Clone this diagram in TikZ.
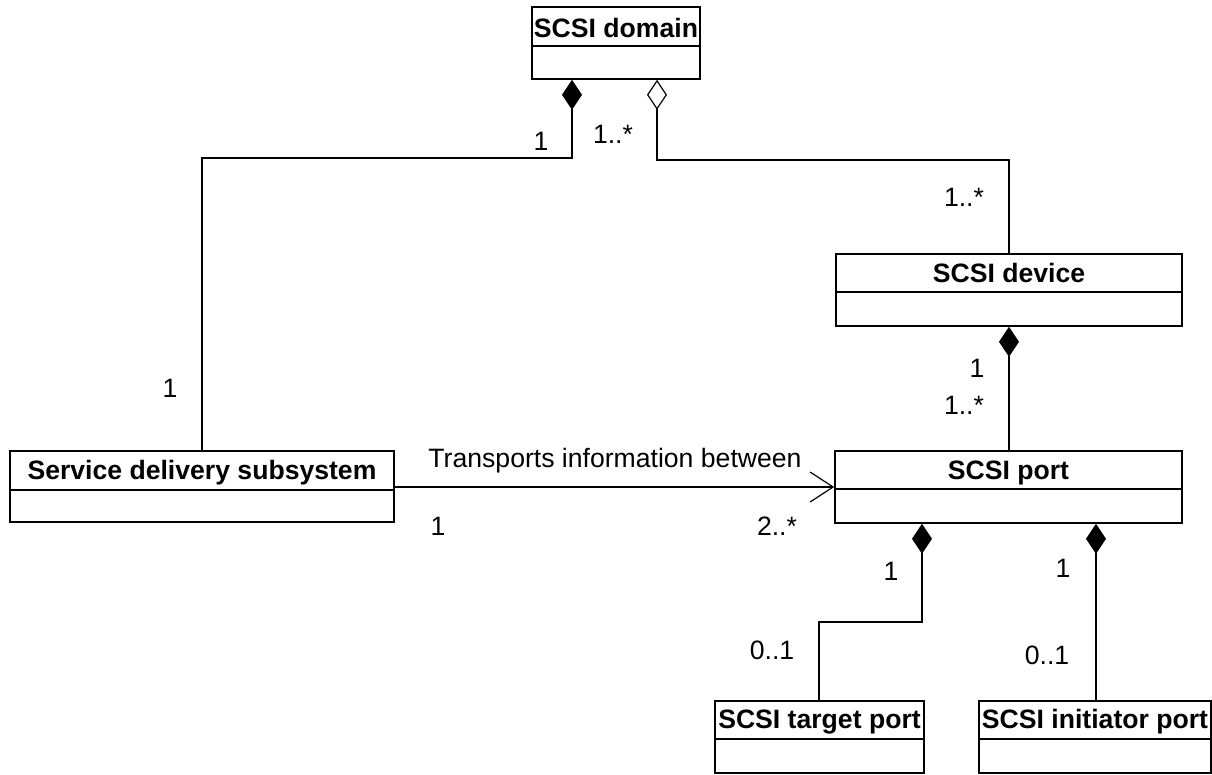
\documentclass[tikz,border=0pt]{standalone}
\usepackage{fontspec}
\setmainfont{Liberation Sans}
\usetikzlibrary{arrows.meta,calc}
\begin{document}
\begin{tikzpicture}[x=1pt,y=-1pt,
  umlbox/.style={draw, line width=1.6pt, inner sep=0pt, rectangle},
  ttl/.style={anchor=base, inner sep=0pt, font=\fontsize{26.6}{30}\selectfont\bfseries},
  mult/.style={anchor=base, inner sep=0pt, font=\fontsize{26.6}{30}\selectfont},
  conn/.style={line width=1.2pt},
  comp/.style={conn, {Diamond[length=30pt,width=20pt]}-},
  aggr/.style={conn, {Diamond[open,length=30pt,width=20pt,fill=white]}-},
  nav/.style={conn, -{Straight Barb[length=23pt,width=30pt]}}]
\useasboundingbox (0,0) rectangle (1212,774);
% boxes
\node[umlbox, minimum width=168pt, minimum height=72pt] (dom) at (616,43) {};
\node[umlbox, minimum width=346pt, minimum height=72pt] (dev) at (1009,290) {};
\node[umlbox, minimum width=384pt, minimum height=71pt] (svc) at (202,486.5) {};
\node[umlbox, minimum width=347pt, minimum height=72pt] (port) at (1008.5,487) {};
\node[umlbox, minimum width=209pt, minimum height=72pt] (tgt) at (819.5,737) {};
\node[umlbox, minimum width=232pt, minimum height=72pt] (ini) at (1095,737) {};
% dividers
\coordinate (d1) at (0,46);
\coordinate (d2) at (0,292);
\coordinate (d3) at (0,490);
\coordinate (d4) at (0,489);
\coordinate (d5) at (0,739);
\draw[line width=1.6pt] (dom.west |- d1) -- (dom.east |- d1);
\draw[line width=1.6pt] (dev.west |- d2) -- (dev.east |- d2);
\draw[line width=1.6pt] (svc.west |- d3) -- (svc.east |- d3);
\draw[line width=1.6pt] (port.west |- d4) -- (port.east |- d4);
\draw[line width=1.6pt] (tgt.west |- d5) -- (tgt.east |- d5);
\draw[line width=1.6pt] (ini.west |- d5) -- (ini.east |- d5);
% titles
\node[ttl] (tdom) at (616,37) {SCSI domain};
\node[ttl] (tdev) at (1009,282) {SCSI device};
\node[ttl] (tsvc) at (202,479) {Service delivery subsystem};
\node[ttl] (tport) at (1008.5,479) {SCSI port};
\node[ttl] (ttgt) at (819.5,728) {SCSI target port};
\node[ttl] (tini) at (1095,728) {SCSI initiator port};
% connector bends
\coordinate (a1) at (572,158);
\coordinate (a2) at (202,158);
\coordinate (b1) at (657,160);
\coordinate (b2) at (1009,160);
\coordinate (c1) at (0,487);
\coordinate (e1) at (922,622);
\coordinate (e2) at (819,622);
\coordinate (f1) at (1096,0);
% connectors
\draw[comp] (dom.south -| a1) -- (a1) -- (a2) -- (svc.north -| a2);
\draw[aggr] (dom.south -| b1) -- (b1) -- (b2) -- (dev.north -| b2);
\draw[comp] (dev.south) -- (port.north -| dev.south);
\draw[nav] (svc.east |- c1) -- (port.west |- c1);
\draw[comp] (port.south -| e1) -- (e1) -- (e2) -- (tgt.north -| e2);
\draw[comp] (port.south -| f1) -- (ini.north -| f1);
% multiplicities
\node[mult] (m1) at (541,150) {1};
\node[mult] (m2) at (613,143) {1..*};
\node[mult] (m3) at (964,206) {1..*};
\node[mult] (m4) at (170,397) {1};
\node[mult] (m5) at (977,377) {1};
\node[mult] (m6) at (964,414) {1..*};
\node[mult] (lbl) at (615,467) {Transports information between};
\node[mult] (m7) at (438,535) {1};
\node[mult] (m8) at (777,535) {2..*};
\node[mult] (m9) at (891,580) {1};
\node[mult] (m10) at (772,659) {0..1};
\node[mult] (m11) at (1063,577) {1};
\node[mult] (m12) at (1047,664) {0..1};
\end{tikzpicture}
\end{document}
